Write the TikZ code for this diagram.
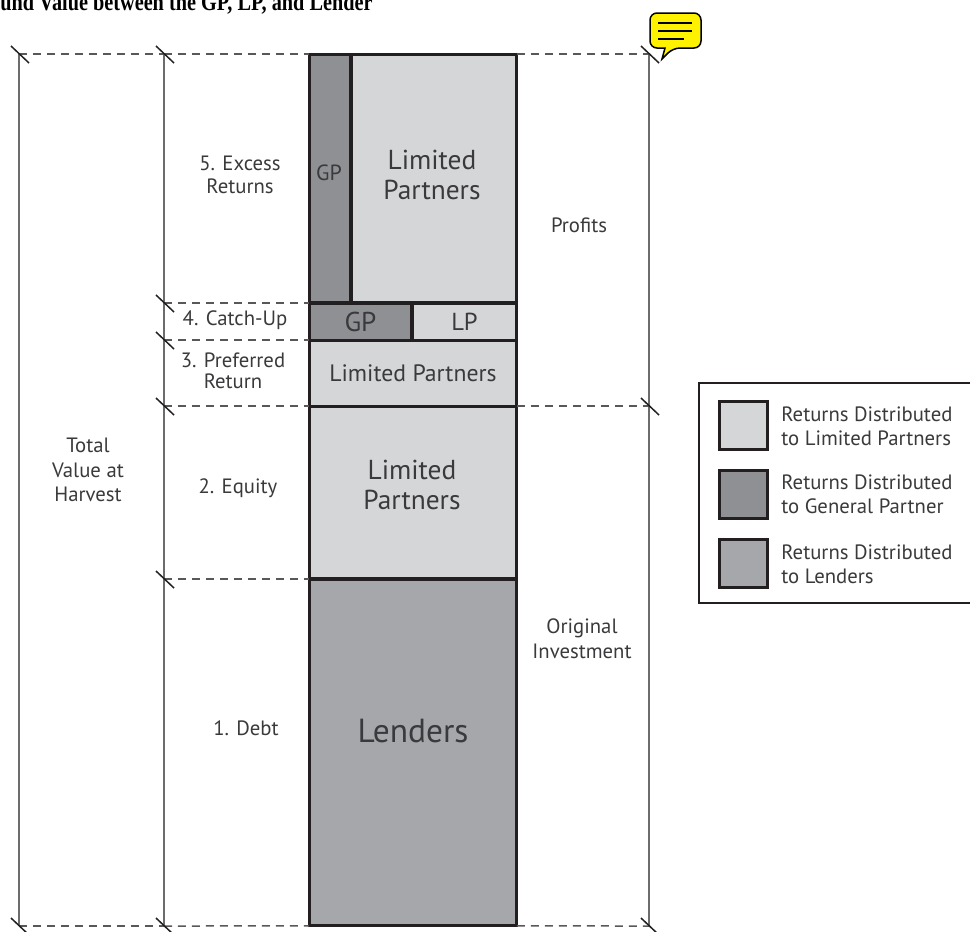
\documentclass[tikz,border=0pt]{standalone}
\usepackage{fontspec}
\setmainfont{PT Sans}
\newfontfamily\titlefont[FakeStretch=0.824]{Liberation Serif}
\definecolor{lpfill}{HTML}{D5D6D8}
\definecolor{gpfill}{HTML}{8F9093}
\definecolor{lenderfill}{HTML}{A6A7AA}
\definecolor{inkline}{HTML}{231F20}
\definecolor{inktext}{HTML}{3A3A3C}
\tikzset{
  blockbox/.style={draw=inkline, line width=0.06cm, anchor=north west, inner sep=0pt, outer sep=0pt, text=inktext, align=center},
  swatchbox/.style={blockbox, minimum width=0.96cm, minimum height=0.96cm},
  steptext/.style={text=inktext, align=center, font=\fontsize{11.8}{14}\selectfont},
  bigtext/.style={text=inktext, align=center, font=\fontsize{15.6}{17}\selectfont},
  keytext/.style={text=inktext, align=left, anchor=west, inner sep=0pt, font=\fontsize{11.8}{13.8}\selectfont},
  guideline/.style={draw=gray!85!black, line width=0.035cm},
  dashline/.style={draw=inkline!75!white, line width=0.03cm, dash pattern=on 0.16cm off 0.12cm},
  tickline/.style={draw=inkline, line width=0.03cm},
}
\begin{document}
\begin{tikzpicture}[x=0.02cm,y=-0.02cm]
\useasboundingbox (0,0) rectangle (970,931);

\node[anchor=base west, inner sep=0pt, font=\titlefont\bfseries\fontsize{14}{16}\selectfont] (title) at (0,10) {und Value between the GP, LP, and Lender};

% bar
\node[blockbox, fill=gpfill, minimum width=0.84cm, minimum height=4.98cm] (gptop) at (309,54) {};
\node[blockbox, fill=lpfill, minimum width=3.32cm, minimum height=4.98cm] (lptop) at (351,54) {};
\node[bigtext] (lptoplabel) at (432,175) {Limited\\Partners};
\node[text=inktext, font=\fontsize{12.5}{14}\selectfont] (gplabel) at (329,173) {GP};
\node[blockbox, fill=gpfill, minimum width=2.06cm, minimum height=0.74cm, font=\fontsize{15.5}{17}\selectfont] (gpcatch) at (309,303) {GP};
\node[blockbox, fill=lpfill, minimum width=2.1cm, minimum height=0.74cm, font=\fontsize{14}{17}\selectfont] (lpcatch) at (412,303) {LP};
\node[blockbox, fill=lpfill, minimum width=4.16cm, minimum height=1.32cm, font=\fontsize{13.5}{16}\selectfont] (lppref) at (309,340) {Limited Partners};
\node[blockbox, fill=lpfill, minimum width=4.16cm, minimum height=3.46cm] (lpequity) at (309,406) {};
\node[bigtext] (lpequitylabel) at (412,485) {Limited\\Partners};
\node[blockbox, fill=lenderfill, minimum width=4.16cm, minimum height=6.94cm] (lenders) at (309,579) {};
\node[text=inktext, font=\fontsize{19}{22}\selectfont] (lenderslabel) at (413,731) {Lenders};

% guides
\coordinate (totaltop) at (19,54);
\coordinate (totalbot) at (19,926);
\coordinate (steptop) at (164,54);
\coordinate (stepa) at (164,303);
\coordinate (stepb) at (164,340);
\coordinate (stepc) at (164,406);
\coordinate (stepd) at (164,579);
\coordinate (stepbot) at (164,926);
\coordinate (righttop) at (649,54);
\coordinate (rightmid) at (649,406);
\coordinate (rightbot) at (649,926);

\draw[guideline] (totaltop) -- (totalbot);
\draw[guideline] (steptop) -- (stepbot);
\draw[guideline] (righttop) -- (rightbot);

\draw[dashline] (totaltop) -- (steptop);
\draw[dashline] (steptop) -- (gptop.north west);
\draw[dashline] (stepa) -- (gpcatch.north west);
\draw[dashline] (stepb) -- (lppref.north west);
\draw[dashline] (stepc) -- (lpequity.north west);
\draw[dashline] (stepd) -- (lenders.north west);
\draw[dashline] (totalbot) -- (stepbot);
\draw[dashline] (stepbot) -- (lenders.south west);
\draw[dashline] (lptop.north east) -- (righttop);
\draw[dashline] (lpequity.north east) -- (rightmid);
\draw[dashline] (lenders.south east) -- (rightbot);

\foreach \tickpt in {totaltop,totalbot,steptop,stepa,stepb,stepc,stepd,stepbot,righttop,rightmid,rightbot}
  \draw[tickline] ([shift={(-8,-8)}]\tickpt) -- ([shift={(10,9)}]\tickpt);

% labels
\node[steptext] (total) at (88,470) {Total\\Value at\\Harvest};
\node[steptext, font=\fontsize{11.8}{13}\selectfont] (excess) at (240,175) {5. Excess\\Returns};
\node[steptext] (catchup) at (235,320) {4. Catch-Up};
\node[steptext, font=\fontsize{11.8}{12}\selectfont] (preferred) at (233,371) {3. Preferred\\Return};
\node[steptext] (equity) at (238,488) {2. Equity};
\node[steptext] (debt) at (246,728) {1. Debt};
\node[steptext] (profits) at (579,225) {Profits};
\node[steptext] (original) at (582,639) {Original\\Investment};

% legend
\node[draw=inkline, line width=0.05cm, anchor=north west, outer sep=0pt, minimum width=5.5cm, minimum height=4.4cm] (legend) at (699,383) {};
\node[swatchbox, fill=lpfill] (keylp) at (719,401) {};
\node[swatchbox, fill=gpfill] (keygp) at (719,470) {};
\node[swatchbox, fill=lenderfill] (keylender) at (719,539) {};
\node[keytext] (keylptext) at (781,426) {Returns Distributed\\to Limited Partners};
\node[keytext] (keygptext) at (781,494) {Returns Distributed\\to General Partner};
\node[keytext] (keylendertext) at (781,564) {Returns Distributed\\to Lenders};

% note icon
\draw[fill=yellow, draw=black, line width=0.03cm, rounded corners=0.14cm] (650,13) -- (701,13) -- (701,48) -- (673,48) [sharp corners] -- (662,59) -- (665,48) [rounded corners=0.14cm] -- (650,48) -- cycle;
\foreach \notey/\noteend in {23/692,31/692,39/684}
  \draw[black, line width=0.03cm] (658,\notey) -- (\noteend,\notey);
\end{tikzpicture}
\end{document}
